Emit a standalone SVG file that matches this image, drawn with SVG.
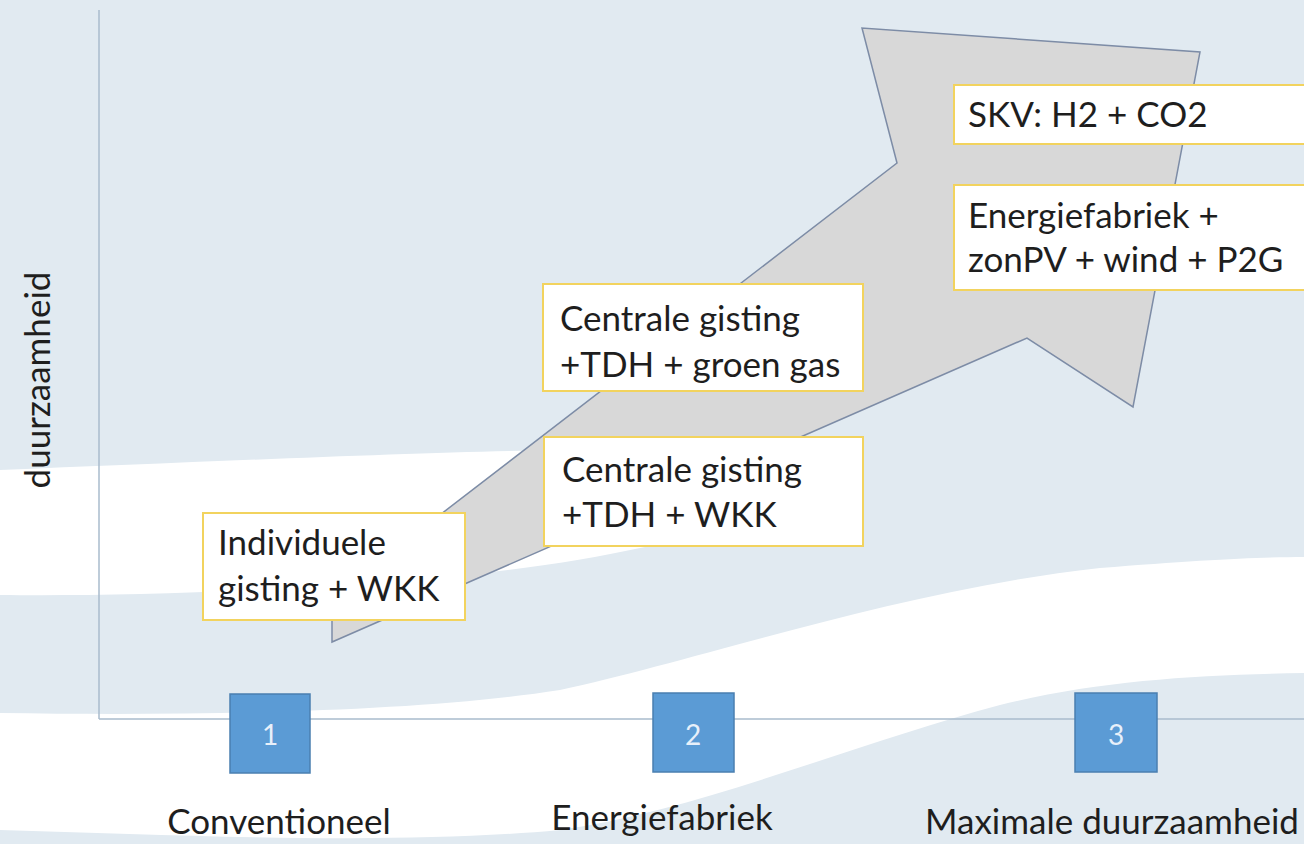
<svg xmlns="http://www.w3.org/2000/svg" width="1304" height="844" viewBox="0 0 1304 844">
<style>
.box{fill:#ffffff;stroke:#f2d35e;stroke-width:2}
.t{font-family:Lato,"Open Sans","Liberation Sans",sans-serif;font-size:35px;fill:#1e1e1e}
.num{fill:#5b9bd5;stroke:#4a7fb0;stroke-width:1.5}
.nt{font-family:Lato,"Open Sans","Liberation Sans",sans-serif;font-size:28px;fill:#e8f0fa;text-anchor:middle}
.axis{stroke:#a8bbcd;stroke-width:1.5;fill:none}
</style>
<rect width="1304" height="844" fill="#e1eaf1"/>
<g id="background-bands" fill="#ffffff">
<path d="M0,470 C200,462 420,452 560,450 C700,448 800,470 850,495 C760,520 680,540 640,548 C560,565 470,578 300,588 C180,594 80,596 0,595 Z"/>
<path d="M0,713 C200,716 420,712 560,690 C700,660 900,590 1100,568 C1200,560 1260,557 1304,557 L1304,673 C1200,675 1100,680 1000,705 C850,745 700,810 560,830 C400,845 200,836 0,830 Z"/>
</g>
<g id="axes">
<line class="axis" x1="99" y1="10" x2="99" y2="719"/>
<line class="axis" x1="99" y1="719" x2="1304" y2="719"/>
<text class="t" transform="translate(50,380) rotate(-90)" text-anchor="middle">duurzaamheid</text>
</g>
<g id="connectors">
<polygon id="growth-arrow" points="332,642 332,598 897,163 862,28 1200,52 1133,407 1027,338" fill="#d8d8d8" stroke="#7d8ca6" stroke-width="1.5" stroke-linejoin="miter"/>
</g>
<g id="node-individuele">
<rect class="box" x="203" y="513" width="262" height="107"/>
<text class="t" x="218" y="555">Individuele</text>
<text class="t" x="218" y="601">gisting + WKK</text>
</g>
<g id="node-centrale-wkk">
<rect class="box" x="544" y="437" width="319" height="109"/>
<text class="t" x="562" y="482">Centrale gisting</text>
<text class="t" x="562" y="527">+TDH + WKK</text>
</g>
<g id="node-centrale-groengas">
<rect class="box" x="543" y="284" width="320" height="107"/>
<text class="t" x="560" y="331">Centrale gisting</text>
<text class="t" x="560" y="377">+TDH + groen gas</text>
</g>
<g id="node-skv">
<rect class="box" x="954" y="85" width="360" height="59"/>
<text class="t" x="968" y="127">SKV: H2 + CO2</text>
</g>
<g id="node-energiefabriek-plus">
<rect class="box" x="954" y="185" width="360" height="105"/>
<text class="t" x="968" y="228">Energiefabriek +</text>
<text class="t" x="968" y="272">zonPV + wind + P2G</text>
</g>
<g id="stage-1">
<rect class="num" x="230" y="694" width="80" height="79"/>
<text class="nt" x="270" y="745">1</text>
<text class="t" x="279" y="834" text-anchor="middle">Conventioneel</text>
</g>
<g id="stage-2">
<rect class="num" x="653" y="693" width="81" height="79"/>
<text class="nt" x="693" y="745">2</text>
<text class="t" x="662" y="830" text-anchor="middle">Energiefabriek</text>
</g>
<g id="stage-3">
<rect class="num" x="1075" y="693" width="82" height="79"/>
<text class="nt" x="1116" y="745">3</text>
<text class="t" x="1112" y="834" text-anchor="middle">Maximale duurzaamheid</text>
</g>
</svg>
